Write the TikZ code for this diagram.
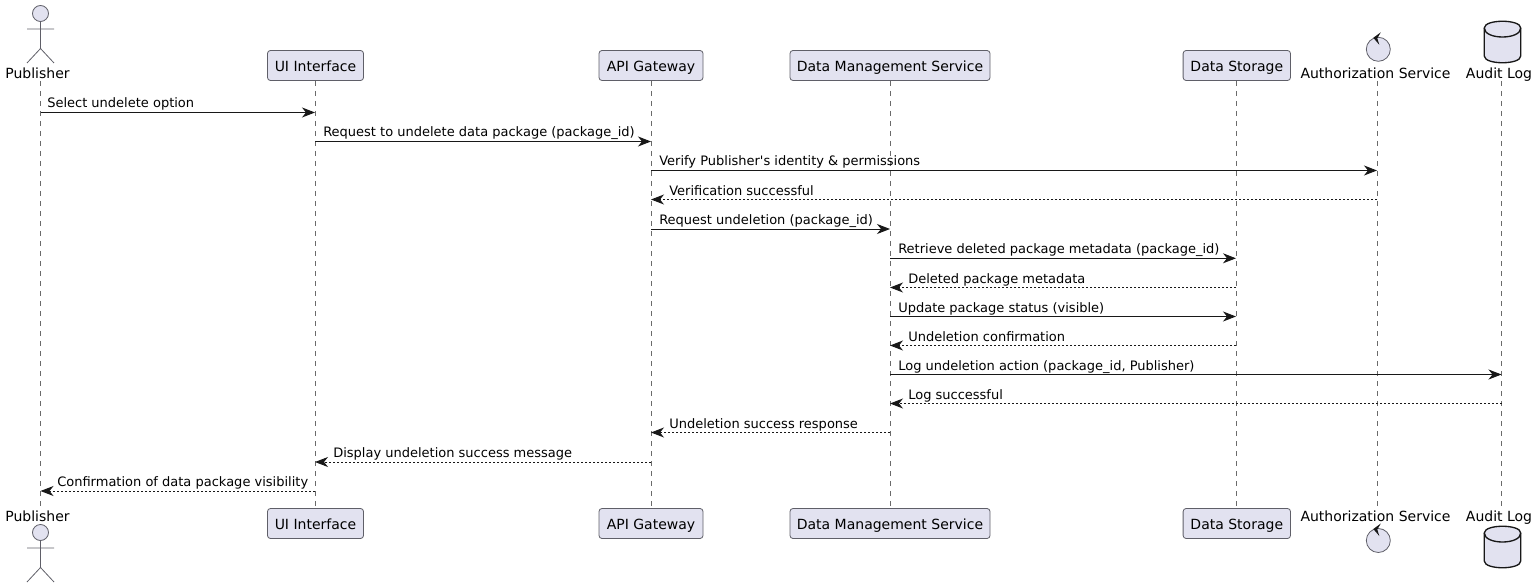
\documentclass[tikz,border=0pt]{standalone}
\usepackage{fontspec}
\setmainfont{DejaVu Sans}
\usetikzlibrary{arrows.meta}

\definecolor{partfill}{HTML}{E2E2F0}
\definecolor{partline}{HTML}{5F5F68}
\definecolor{lifeline}{HTML}{6A6A6A}
\definecolor{inkline}{HTML}{181818}

\tikzset{
	part/.style={draw=partline, fill=partfill, rounded corners=2.2pt, line width=0.6pt,
		inner sep=0pt, minimum height=22.5pt, text height=8.5pt, text depth=0pt,
		font=\fontsize{10.5}{12}\selectfont},
	partname/.style={anchor=base, inner sep=0pt, font=\fontsize{10.5}{12}\selectfont},
	life/.style={draw=lifeline, line width=0.5pt, dash pattern=on 3.75pt off 3.75pt},
	call/.style={draw=inkline, line width=0.75pt, -{Stealth[length=9.75pt,width=7.5pt,inset=3pt]}},
	back/.style={call, dash pattern=on 1.5pt off 1.5pt},
	msg/.style={anchor=base west, inner sep=0pt, font=\fontsize{9.75}{12}\selectfont},
	figline/.style={draw=partline, line width=0.6pt},
	drum/.style={draw=inkline, fill=partfill, line width=1pt}
}

% stick figure, head centre at (#1,#2)
\newcommand{\stickfig}[2]{
	\draw[figline, fill=partfill] (#1,#2) circle (8);
	\draw[figline] (#1,#2+8) -- (#1,#2+35) (#1-13.5,#2+15.5) -- (#1+13.5,#2+15.5)
		(#1-13.5,#2+49.5) -- (#1,#2+35) -- (#1+13.5,#2+49.5);
}
% circle with a chevron on top, centre at (#1,#2)
\newcommand{\ctrlfig}[2]{
	\draw[figline, fill=partfill] (#1,#2) circle (12);
	\fill[inkline] (#1+2.5,#2-17) -- (#1-5,#2-11.5) -- (#1+1,#2-4.5) -- (#1-1,#2-11) -- cycle;
}
% cylinder, top left corner at (#1,#2)
\newcommand{\drumfig}[2]{
	\draw[drum] (#1,#2+9) .. controls (#1,#2) and (#1+36.4,#2) .. (#1+36.4,#2+9)
		-- (#1+36.4,#2+37) .. controls (#1+36.4,#2+46) and (#1,#2+46) .. (#1,#2+37) -- cycle;
	\draw[drum, fill=none] (#1,#2+9) .. controls (#1,#2+21) and (#1+36.4,#2+21) .. (#1+36.4,#2+9);
}

\begin{document}
\begin{tikzpicture}[x=0.75pt, y=-0.75pt]
	\useasboundingbox (0,0) rectangle (1538,588);

	% lifelines and one coordinate per message row
	\foreach \n/\x in {pub/40.5, ui/315, api/651, dms/890, store/1236, auth/1377, audit/1501.5} {
		\coordinate (\n top) at (\x,81);
		\coordinate (\n bot) at (\x,508);
		\draw[life] (\n top) -- (\n bot);
		\foreach \r/\y in {1/112.5, 2/141.5, 3/170.5, 4/199.5, 5/229, 6/258.3, 7/287.5, 8/316.5, 9/345.5, 10/374.5, 11/403.5, 12/432.5, 13/462, 14/491} {
			\coordinate (\n\r) at (\x,\y);
		}
	}

	% top row
	\stickfig{40.5}{13.5}
	\node[partname] (pub) at (37.5,78.3) {Publisher};
	\node[part, minimum width=72pt] (ui) at (315.5,65.5) {UI Interface};
	\node[part, minimum width=78pt] (api) at (651,65.5) {API Gateway};
	\node[part, minimum width=150pt] (dms) at (890,65.5) {Data Management Service};
	\node[part, minimum width=80.5pt] (store) at (1236.8,65.5) {Data Storage};
	\ctrlfig{1378.3}{49.3}
	\node[partname] (auth) at (1375.5,78.3) {Authorization Service};
	\drumfig{1484.3}{19}
	\node[partname] (audit) at (1499,78.3) {Audit Log};

	% bottom row
	\node[partname] (pubb) at (37.5,521.3) {Publisher};
	\stickfig{40.5}{532.5}
	\node[part, minimum width=72pt] (uib) at (315.5,523.5) {UI Interface};
	\node[part, minimum width=78pt] (apib) at (651,523.5) {API Gateway};
	\node[part, minimum width=150pt] (dmsb) at (890,523.5) {Data Management Service};
	\node[part, minimum width=80.5pt] (storeb) at (1236.8,523.5) {Data Storage};
	\ctrlfig{1378.3}{540.5}
	\node[partname] (authb) at (1375.5,521.3) {Authorization Service};
	\drumfig{1484.3}{524}
	\node[partname] (auditb) at (1499,521.3) {Audit Log};

	% messages
	\draw[call] (pub1) -- (ui1);
	\node[msg] (m1) at ([shift={(6.5,-4.5)}]pub1) {Select undelete option};
	\draw[call] (ui2) -- (api2);
	\node[msg] (m2) at ([shift={(8,-4.5)}]ui2) {Request to undelete data package (package\_id)};
	\draw[call] (api3) -- (auth3);
	\node[msg] (m3) at ([shift={(8,-5)}]api3) {Verify Publisher\textquotesingle s identity \& permissions};
	\draw[back] (auth4) -- (api4);
	\node[msg] (m4) at ([shift={(18,-4)}]api4) {Verification successful};
	\draw[call] (api5) -- (dms5);
	\node[msg] (m5) at ([shift={(8,-5)}]api5) {Request undeletion (package\_id)};
	\draw[call] (dms6) -- (store6);
	\node[msg] (m6) at ([shift={(8,-5)}]dms6) {Retrieve deleted package metadata (package\_id)};
	\draw[back] (store7) -- (dms7);
	\node[msg] (m7) at ([shift={(18,-4.5)}]dms7) {Deleted package metadata};
	\draw[call] (dms8) -- (store8);
	\node[msg] (m8) at ([shift={(8,-4.5)}]dms8) {Update package status (visible)};
	\draw[back] (store9) -- (dms9);
	\node[msg] (m9) at ([shift={(18,-4.5)}]dms9) {Undeletion confirmation};
	\draw[call] (dms10) -- (audit10);
	\node[msg] (m10) at ([shift={(8,-4.5)}]dms10) {Log undeletion action (package\_id, Publisher)};
	\draw[back] (audit11) -- (dms11);
	\node[msg] (m11) at ([shift={(18,-4.5)}]dms11) {Log successful};
	\draw[back] (dms12) -- (api12);
	\node[msg] (m12) at ([shift={(18,-4.5)}]api12) {Undeletion success response};
	\draw[back] (api13) -- (ui13);
	\node[msg] (m13) at ([shift={(18,-4.5)}]ui13) {Display undeletion success message};
	\draw[back] (ui14) -- (pub14);
	\node[msg] (m14) at ([shift={(16.5,-4.5)}]pub14) {Confirmation of data package visibility};
\end{tikzpicture}
\end{document}
